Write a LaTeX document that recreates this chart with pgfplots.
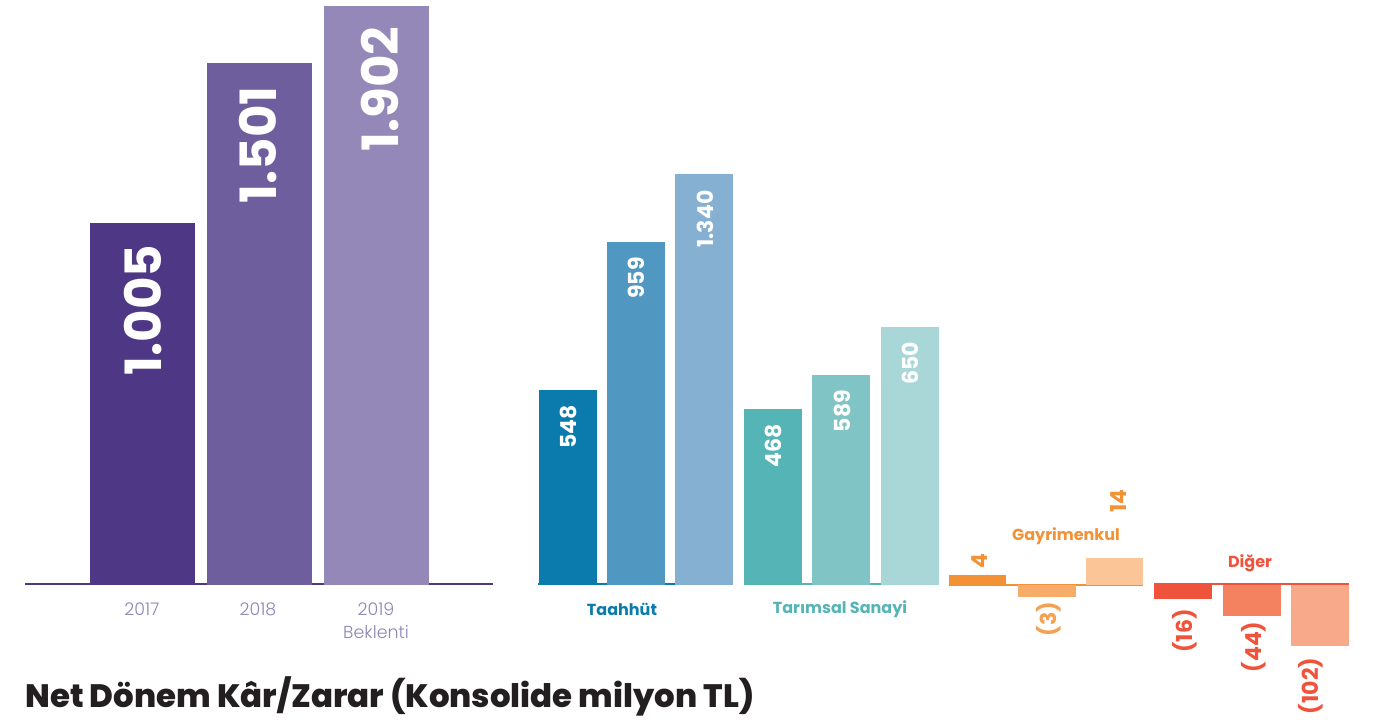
\documentclass[border=0pt]{standalone}
\usepackage{pgfplots}
\pgfplotsset{compat=1.18}
\usepackage{fontspec}
\setmainfont{Poppins}
\newfontfamily\lightfont{Poppins Light}
\newfontfamily\heavyfont{Poppins ExtraBold}
\definecolor{P1}{HTML}{4E3886}
\definecolor{P2}{HTML}{6E5E9D}
\definecolor{P3}{HTML}{9488B9}
\definecolor{PL}{HTML}{8F84B6}
\definecolor{T1}{HTML}{0B7BAE}
\definecolor{T2}{HTML}{5097C2}
\definecolor{T3}{HTML}{86B0D2}
\definecolor{S1}{HTML}{55B4B5}
\definecolor{S2}{HTML}{81C4C5}
\definecolor{S3}{HTML}{A9D6D7}
\definecolor{G1}{HTML}{F39136}
\definecolor{G2}{HTML}{F7AC69}
\definecolor{G3}{HTML}{FBC597}
\definecolor{D1}{HTML}{F0533B}
\definecolor{D2}{HTML}{F48160}
\definecolor{D3}{HTML}{F7A98A}
\definecolor{TT}{HTML}{231F20}
\begin{document}
\begin{tikzpicture}
\begin{axis}[
  x=0.5pt, y=0.5pt,
  xmin=0, xmax=1373, ymin=-137, ymax=585,
  hide axis, clip=false,
  every axis plot/.append style={draw=none, bar shift=0pt},
]
\path (rel axis cs:0,0) (rel axis cs:1,1);
% baselines
\addplot[draw=P1, line width=1pt, no marks] coordinates {(25,1) (493,1)};
\addplot[draw=T1, line width=1pt, no marks] coordinates {(538,0.5) (733,0.5)};
\addplot[draw=S1, line width=1pt, no marks] coordinates {(744,0.5) (939,0.5)};
\addplot[draw=G1, line width=1pt, no marks] coordinates {(949,0) (1143,0)};
\addplot[draw=D1, line width=1pt, no marks] coordinates {(1154,0.5) (1349,0.5)};
% left panel: 1.005 / 1.501 / 1.902 (drawn heights)
\addplot[ybar, bar width=105, fill=P1] coordinates {(142.5,362)};
\addplot[ybar, bar width=105, fill=P2] coordinates {(259.5,522)};
\addplot[ybar, bar width=105, fill=P3] coordinates {(376.5,579)};
% Taahhut: 548 / 959 / 1.340
\addplot[ybar, bar width=58, fill=T1] coordinates {(567.5,195)};
\addplot[ybar, bar width=58, fill=T2] coordinates {(636,343)};
\addplot[ybar, bar width=58, fill=T3] coordinates {(704,411)};
% Tarimsal Sanayi: 468 / 589 / 650
\addplot[ybar, bar width=58, fill=S1] coordinates {(773,176)};
\addplot[ybar, bar width=58, fill=S2] coordinates {(841,210)};
\addplot[ybar, bar width=58, fill=S3] coordinates {(910,258)};
% Gayrimenkul: 4 / (3) / 14
\addplot[ybar, bar width=57, fill=G1] coordinates {(977.5,10)};
\addplot[ybar, bar width=58, fill=G2] coordinates {(1047,-12)};
\addplot[ybar, bar width=57, fill=G3] coordinates {(1114.5,27)};
% Diger: (16) / (44) / (102)
\addplot[ybar, bar width=58, fill=D1] coordinates {(1183,-14)};
\addplot[ybar, bar width=58, fill=D2] coordinates {(1252,-31)};
\addplot[ybar, bar width=58, fill=D3] coordinates {(1320,-61)};
% value labels
\begin{scope}[every node/.style={rotate=90, text=white, font=\bfseries\fontsize{25}{25}\selectfont, inner sep=0pt}]
\node at (axis cs:143,275) {1.005};
\node at (axis cs:258,440) {1.501};
\node at (axis cs:380,496) {1.902};
\end{scope}
\begin{scope}[every node/.style={rotate=90, text=white, font=\bfseries\fontsize{11}{11}\selectfont, inner sep=0pt}]
\node at (axis cs:568,158) {548};
\node at (axis cs:636,307) {959};
\node at (axis cs:705,366) {1.340};
\node at (axis cs:773,139) {468};
\node at (axis cs:842,174) {589};
\node at (axis cs:910,222) {650};
\end{scope}
\begin{scope}[every node/.style={rotate=90, font=\bfseries\fontsize{11}{11}\selectfont, inner sep=0pt}]
\node[text=G1] at (axis cs:980,24) {4};
\node[text=G1!85!white] at (axis cs:1049,-34) {(3)};
\node[text=G1] at (axis cs:1118,84) {14};
\node[text=D1] at (axis cs:1185,-46) {(16)};
\node[text=D1] at (axis cs:1254,-62) {(44)};
\node[text=D1] at (axis cs:1311,-101) {(102)};
\end{scope}
% category labels
\begin{scope}[every node/.style={text=PL, font=\lightfont\fontsize{8.7}{8.7}\selectfont, inner sep=0pt}]
\node at (axis cs:142,-24) {2017};
\node at (axis cs:258,-24) {2018};
\node at (axis cs:376,-24) {2019};
\node at (axis cs:376,-47) {Beklenti};
\end{scope}
\begin{scope}[every node/.style={font=\bfseries\fontsize{8}{8}\selectfont, inner sep=0pt}]
\node[text=T1] at (axis cs:622,-24) {Taahhüt};
\node[text=S1] at (axis cs:840,-24) {Tarımsal Sanayi};
\node[text=G1] at (axis cs:1066,49) {Gayrimenkul};
\node[text=D1] at (axis cs:1250,22) {Diğer};
\end{scope}
\node[anchor=base west, inner sep=0pt, text=TT, font=\heavyfont\fontsize{16.2}{16.2}\selectfont] at (axis cs:25,-123) {Net Dönem Kâr/Zarar (Konsolide milyon TL)};
\end{axis}
\end{tikzpicture}
\end{document}
